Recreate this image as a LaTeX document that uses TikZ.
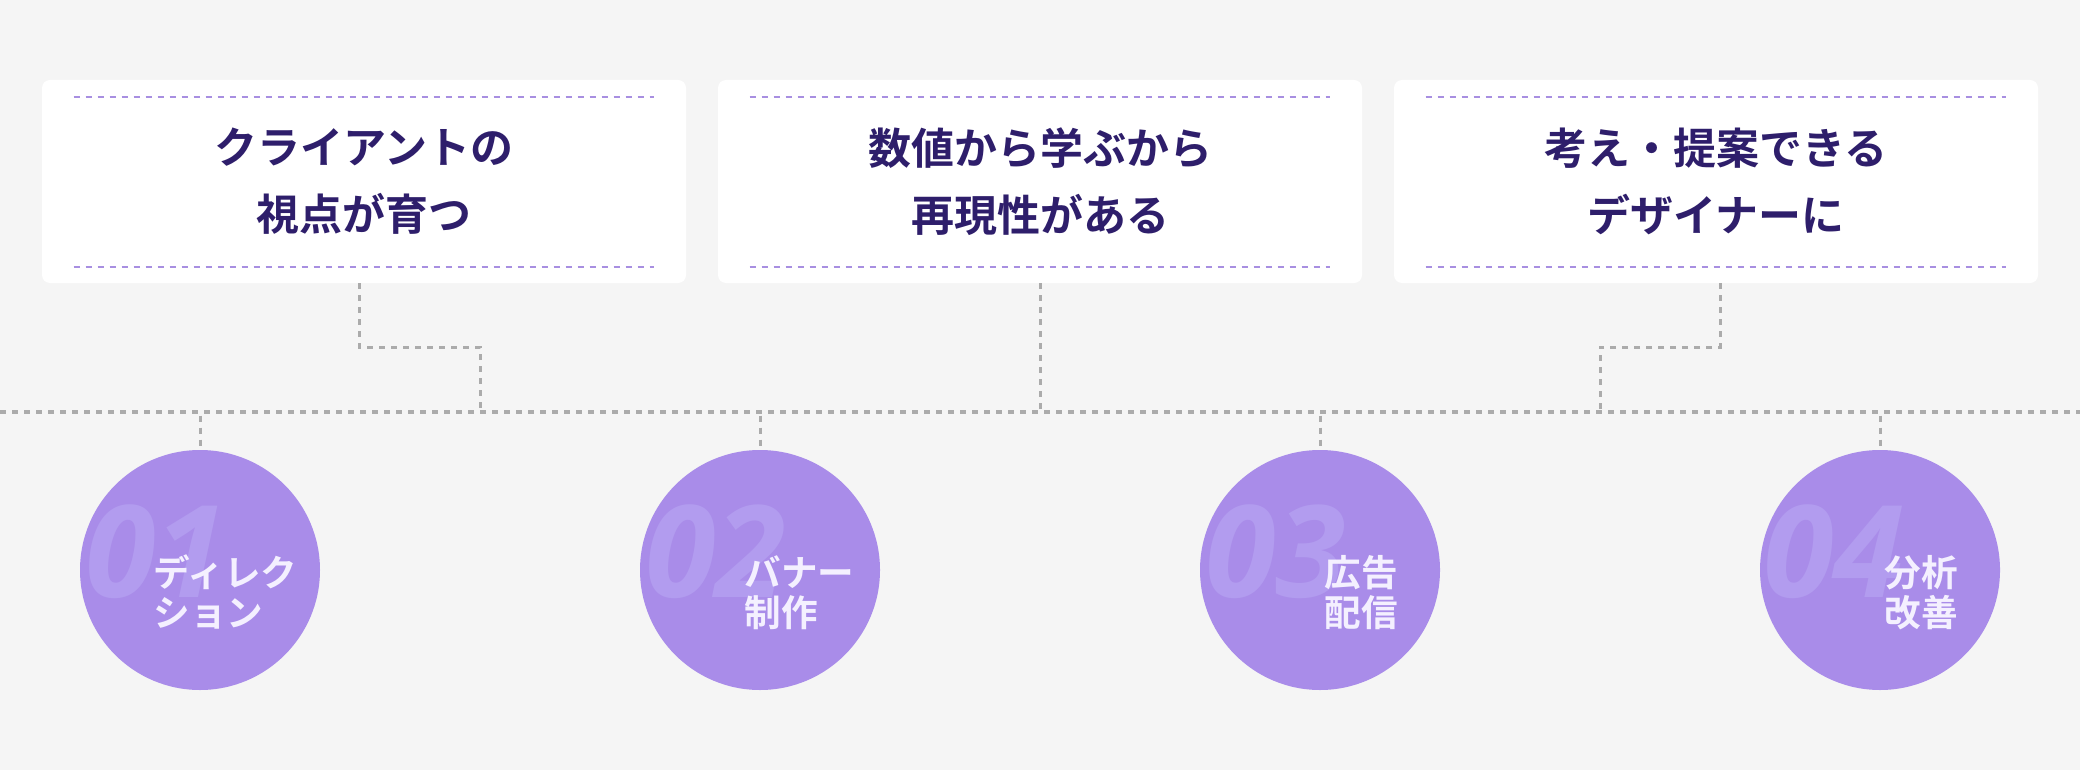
\documentclass[tikz,border=0pt]{standalone}
\usepackage{fontspec}
\usepackage{tikz}
\setmainfont{Noto Sans CJK JP}[BoldFont={Noto Sans CJK JP Bold}]
\newfontfamily\numfont{Open Sans}

\definecolor{pagebg}{HTML}{F5F5F5}
\definecolor{cardrule}{HTML}{A88FE1}
\definecolor{titleink}{HTML}{2E1E6B}
\definecolor{linkgray}{HTML}{ABABAB}
\definecolor{stagefill}{HTML}{A98CE9}
\definecolor{stagenum}{HTML}{B29CEF}
\definecolor{stageink}{HTML}{F4F0FF}

\tikzset{
  card/.style={fill=white,rounded corners=4pt,minimum width=322pt,minimum height=101.5pt,
    align=center,text=titleink,font=\fontsize{21.5pt}{33.5pt}\selectfont\bfseries},
  cardline/.style={cardrule,line width=1pt,dash pattern=on 3pt off 3pt},
  link/.style={linkgray,line width=1.5pt,dash pattern=on 3pt off 3pt},
  mainline/.style={linkgray,line width=2pt,dash pattern=on 3pt off 3pt},
  stage/.style={circle,fill=stagefill,minimum size=120pt,inner sep=0pt},
  stagenum/.style={anchor=base west,text=stagenum,inner sep=0pt,
    font=\numfont\fontsize{64pt}{64pt}\selectfont\bfseries\itshape},
  stagelabel/.style={anchor=base west,align=left,text=stageink,inner sep=0pt,
    font=\fontsize{18.3pt}{20pt}\selectfont\bfseries}
}

\begin{document}
\begin{tikzpicture}[x=0.5pt,y=-0.5pt]
\fill[pagebg] (0,0) rectangle (2080,770);
\useasboundingbox (0,0) rectangle (2080,770);

% cards
\node[card] (card1) at (364,181.5) {クライアントの\\視点が育つ};
\node[card] (card2) at (1040,181.5) {数値から学ぶから\\再現性がある};
\node[card] (card3) at (1716,181.5) {考え・提案できる\\デザイナーに};

\draw[cardline] ([xshift=16pt,yshift=-8.5pt]card1.north west) -- ([xshift=-16pt,yshift=-8.5pt]card1.north east);
\draw[cardline] ([xshift=16pt,yshift=8pt]card1.south west) -- ([xshift=-16pt,yshift=8pt]card1.south east);
\draw[cardline] ([xshift=16pt,yshift=-8.5pt]card2.north west) -- ([xshift=-16pt,yshift=-8.5pt]card2.north east);
\draw[cardline] ([xshift=16pt,yshift=8pt]card2.south west) -- ([xshift=-16pt,yshift=8pt]card2.south east);
\draw[cardline] ([xshift=16pt,yshift=-8.5pt]card3.north west) -- ([xshift=-16pt,yshift=-8.5pt]card3.north east);
\draw[cardline] ([xshift=16pt,yshift=8pt]card3.south west) -- ([xshift=-16pt,yshift=8pt]card3.south east);

% time line
\coordinate (lineW) at (0,412);
\coordinate (lineE) at (2080,412);
\draw[mainline] (lineW) -- (lineE);

\coordinate (join1) at (480,412);
\coordinate (join2) at (1040,412);
\coordinate (join3) at (1600,412);
\draw[link] ([xshift=-2.5pt]card1.south) -- ++(0,64) -| (join1);
\draw[link] (card2.south) -- (join2);
\draw[link] ([xshift=2pt]card3.south) -- ++(0,64) -| (join3);

% stages
\node[stage] (stage1) at (200,570) {};
\node[stage] (stage2) at (760,570) {};
\node[stage] (stage3) at (1320,570) {};
\node[stage] (stage4) at (1880,570) {};

\draw[link] ([yshift=17pt]stage1.north) -- (stage1.north);
\draw[link] ([yshift=17pt]stage2.north) -- (stage2.north);
\draw[link] ([yshift=17pt]stage3.north) -- (stage3.north);
\draw[link] ([yshift=17pt]stage4.north) -- (stage4.north);

\node[stagenum] (num1) at (85,597) {01};
\node[stagenum] (num2) at (645,597) {02};
\node[stagenum] (num3) at (1205,597) {03};
\node[stagenum] (num4) at (1763,597) {04};

\node[stagelabel] (label1) at (153,626) {ディレク\\ション};
\node[stagelabel] (label2) at (744,626) {バナー\\制作};
\node[stagelabel] (label3) at (1324,626) {広告\\配信};
\node[stagelabel] (label4) at (1884,626) {分析\\改善};
\end{tikzpicture}
\end{document}
